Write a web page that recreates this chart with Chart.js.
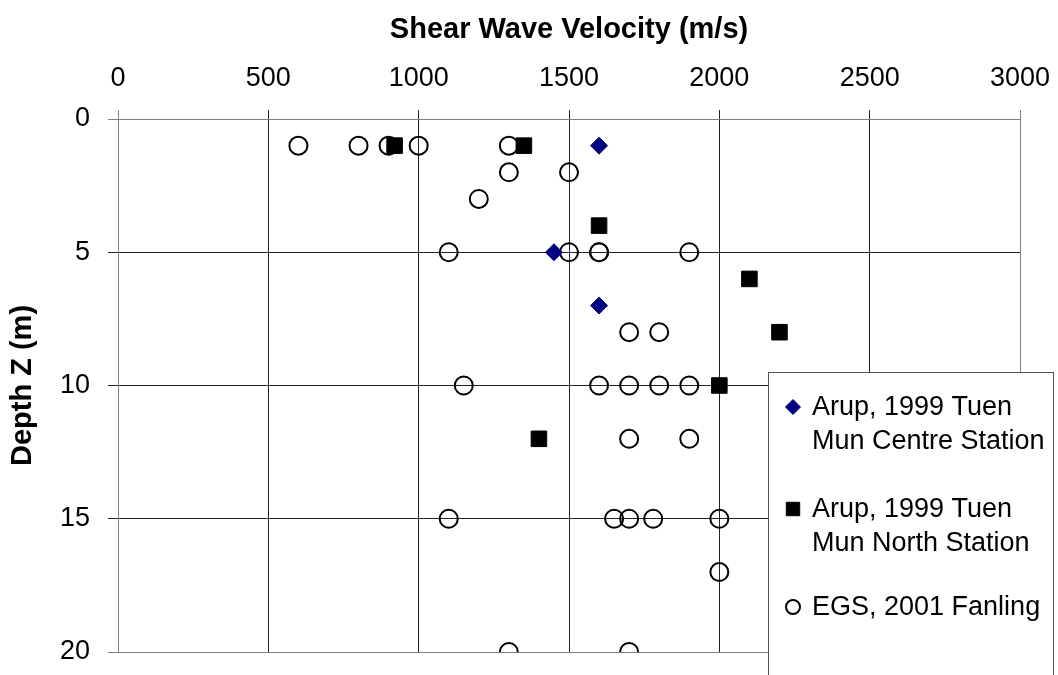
<!DOCTYPE html>
<html>
<head>
<meta charset="utf-8">
<script src="https://cdn.jsdelivr.net/npm/chart.js@4"></script>
<style>
  html, body { margin: 0; padding: 0; background: #fff; }
  #wrap { width: 1058px; height: 675px; }
</style>
</head>
<body>
<div id="wrap"><canvas id="c" width="1058" height="675"></canvas></div>
<script>
// ---- data ----
const seriesNames = [
  ['Arup, 1999 Tuen', 'Mun Centre Station'],
  ['Arup, 1999 Tuen', 'Mun North Station'],
  ['EGS, 2001 Fanling']
];
const centreVelocity = [1600, 1450, 1600];
const centreDepth    = [1, 5, 7];
const northVelocity  = [920, 1350, 1600, 2100, 2200, 2000, 1400];
const northDepth     = [1, 1, 4, 6, 8, 10, 12];
const egsVelocity = [600, 800, 900, 1000, 1300, 1300, 1500, 1200, 1100, 1500, 1600, 1600, 1900,
                     1700, 1800, 1150, 1600, 1700, 1800, 1900, 1700, 1900,
                     1100, 1650, 1700, 1780, 2000, 2000, 1300, 1700];
const egsDepth    = [1, 1, 1, 1, 1, 2, 2, 3, 5, 5, 5, 5, 5,
                     8, 8, 10, 10, 10, 10, 10, 12, 12,
                     15, 15, 15, 15, 15, 17, 20, 20];
const xTitle = 'Shear Wave Velocity (m/s)';
const yTitle = 'Depth Z (m)';
const xMin = 0, xMax = 3000, xStep = 500;
const yMin = 0, yMax = 20, yStep = 5;

function pts(xs, ys) { return xs.map((v, i) => ({ x: v, y: ys[i] })); }

const FONT = "'Liberation Sans', Arial, sans-serif";

const legendPlugin = {
  id: 'boxLegend',
  afterDraw(chart) {
    const ctx = chart.ctx;
    ctx.save();
    const bx = 768.5, by = 372.5, bw = 285, bh = 320;
    ctx.fillStyle = '#fff';
    ctx.fillRect(bx, by, bw, bh);
    ctx.strokeStyle = '#555';
    ctx.lineWidth = 1;
    ctx.strokeRect(bx, by, bw, bh);
    const rowsY = [407, 509, 607];
    const legendMarkers = [
      { pointStyle: 'rectRot', radius: 7.5, borderWidth: 1 },
      { pointStyle: 'rect', radius: 9.5, borderWidth: 1 },
      { pointStyle: 'circle', radius: 7, borderWidth: 2 }
    ];
    ctx.font = '27px ' + FONT;
    ctx.textBaseline = 'middle';
    ctx.textAlign = 'left';
    chart.data.datasets.forEach((ds, i) => {
      const y = rowsY[i];
      ctx.fillStyle = ds.pointBackgroundColor;
      ctx.strokeStyle = ds.pointBorderColor;
      ctx.lineWidth = legendMarkers[i].borderWidth;
      Chart.helpers.drawPoint(ctx, Object.assign({ rotation: 0 }, legendMarkers[i]), 793, y);
      ctx.fillStyle = '#000';
      seriesNames[i].forEach((line, j) => {
        ctx.fillText(line, 812, y + 1 + j * 34);
      });
    });
    ctx.restore();
  }
};

function gridColor(c) {
  const n = c.scale.ticks.length;
  if (c.index === 0 || c.index === n - 1) return '#808080';
  return '#222';
}

new Chart(document.getElementById('c'), {
  type: 'scatter',
  data: {
    datasets: [
      {
        label: seriesNames[0].join(' '),
        data: pts(centreVelocity, centreDepth),
        pointStyle: 'rectRot',
        pointRadius: 8.5,
        pointBackgroundColor: '#000080',
        pointBorderColor: '#000080',
        pointBorderWidth: 1,
        showLine: false
      },
      {
        label: seriesNames[1].join(' '),
        data: pts(northVelocity, northDepth),
        pointStyle: 'rect',
        pointRadius: 11,
        pointBackgroundColor: '#000',
        pointBorderColor: '#000',
        pointBorderWidth: 1,
        showLine: false
      },
      {
        label: seriesNames[2].join(' '),
        data: pts(egsVelocity, egsDepth),
        pointStyle: 'circle',
        pointRadius: 9,
        pointBackgroundColor: 'rgba(0,0,0,0)',
        pointBorderColor: '#000',
        pointBorderWidth: 2,
        showLine: false
      }
    ]
  },
  options: {
    responsive: false,
    animation: false,
    events: [],
    layout: { padding: { left: 0, top: 0, right: 38, bottom: 23 } },
    plugins: {
      legend: { display: false },
      tooltip: { enabled: false }
    },
    scales: {
      x: {
        type: 'linear',
        position: 'top',
        min: xMin, max: xMax,
        afterFit(s) { s.height = 119; s.paddingLeft = 0; s.paddingRight = 0; },
        ticks: { stepSize: xStep, color: '#000', font: { family: FONT, size: 27 }, padding: 15, maxRotation: 0,
                 callback: v => String(v) },
        grid: { color: gridColor, tickColor: gridColor, tickLength: 9, lineWidth: 1 },
        border: { color: '#808080', width: 1 },
        title: { display: true, text: xTitle, color: '#000', font: { family: FONT, size: 29, weight: 'bold' }, padding: { top: 13, bottom: 0 } }
      },
      y: {
        type: 'linear',
        position: 'left',
        reverse: true,
        min: yMin, max: yMax,
        afterFit(s) { s.width = 118; s.paddingTop = 0; s.paddingBottom = 0; },
        ticks: { stepSize: yStep, color: '#000', font: { family: FONT, size: 27 }, padding: 18,
                 callback: v => String(v) },
        grid: { color: gridColor, tickColor: gridColor, tickLength: 10, lineWidth: 1 },
        border: { color: '#808080', width: 1 },
        title: { display: true, text: yTitle, color: '#000', font: { family: FONT, size: 29, weight: 'bold' }, padding: { top: 6, bottom: 0 } }
      }
    }
  },
  plugins: [legendPlugin]
});
</script>
</body>
</html>
